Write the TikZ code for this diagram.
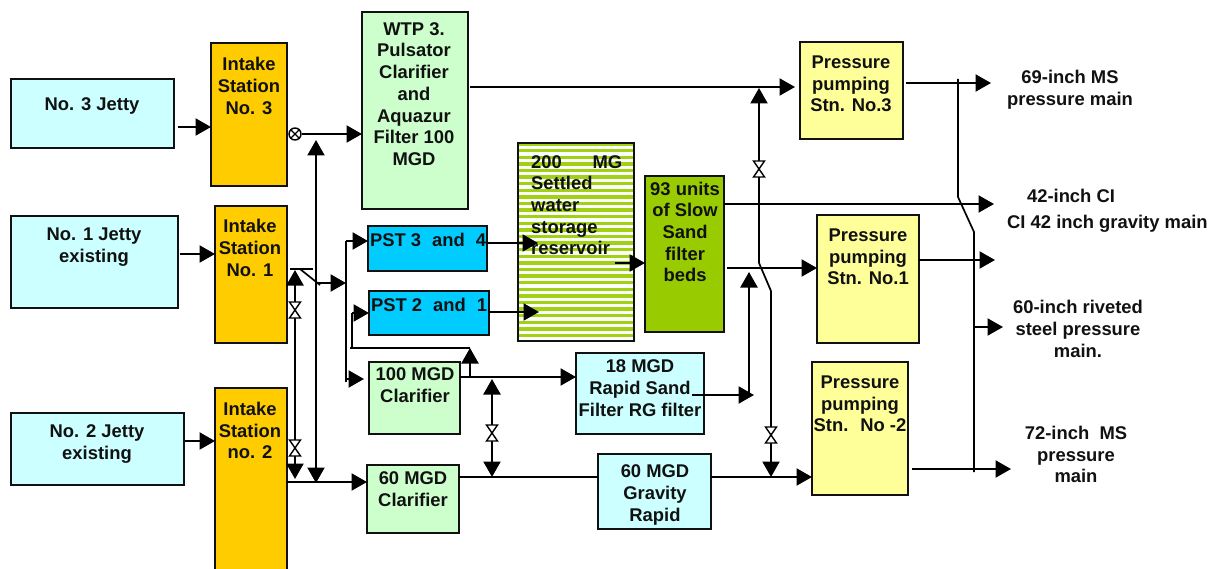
\documentclass[tikz,border=0pt]{standalone}
\usepackage{fontspec}
\setmainfont{Liberation Sans}
\usetikzlibrary{arrows.meta}
\definecolor{ltcyan}{HTML}{CCFFFF}
\definecolor{orng}{HTML}{FFCC00}
\definecolor{ltgreen}{HTML}{CCFFCC}
\definecolor{skyb}{HTML}{00CCFF}
\definecolor{ltyel}{HTML}{FFFF99}
\definecolor{olive}{HTML}{99CC00}
\definecolor{ink}{HTML}{111111}
\newcommand{\bx}[6]{%
  \pgfmathsetmacro\bw{#4-#2}\pgfmathsetmacro\bh{#5-#3}%
  \node[boxst,fill=#6,minimum width=\bw pt,minimum height=\bh pt] (#1) at ({(#2+#4)/2},{(#3+#5)/2}) {};}
\tikzset{
  boxst/.style={draw=ink,line width=1.3pt,inner sep=0pt,outer sep=0pt},
  txt/.style={font=\fontsize{18.4}{21.7}\selectfont\bfseries,align=center,inner sep=0pt,text=ink},
  txl/.style={font=\fontsize{18.4}{21.7}\selectfont\bfseries,align=left,inner sep=0pt,text=ink},
  arr/.style={line width=2.2pt,color=black,-{Triangle[length=15.5pt,width=17pt]}},
  darr/.style={line width=2.2pt,color=black,{Triangle[length=15.5pt,width=17pt]}-{Triangle[length=15.5pt,width=17pt]}},
  pipe/.style={line width=2.2pt,color=black},
  thin pipe/.style={line width=1.7pt,color=black},
  valve/.pic={\draw[fill=white,line width=1.4pt,line join=miter] (-5.5,-8)--(5.5,-8)--(-5.5,8)--(5.5,8)--cycle;}
}
\begin{document}
\begin{tikzpicture}[x=1pt,y=-1pt]
\clip (0,0) rectangle (1220,569);
\fill[white] (0,0) rectangle (1220,569);
% boxes
\bx{j3}{11}{79}{174}{148}{ltcyan}
\bx{j1}{11}{216}{178}{308}{ltcyan}
\bx{j2}{11}{413}{184}{485}{ltcyan}
\bx{in3}{211}{43}{287}{186}{orng}
\bx{in1}{215}{206}{287}{343}{orng}
\bx{in2}{215}{388}{287}{590}{orng}
\bx{wtp}{362}{12}{468}{209}{ltgreen}
\bx{pa}{368}{226}{487}{271}{skyb}
\bx{pb}{369}{291}{489}{335}{skyb}
\bx{ca}{369}{362}{460}{434}{ltgreen}
\bx{cb}{367}{465}{459}{533}{ltgreen}
\bx{res}{518}{143}{634}{341}{olive!92!white}
\begin{scope}
\clip (res.north west) rectangle (res.south east);
\foreach \k in {0,...,30}{\fill[white!92!ltgreen] (518,{145.8+6.6*\k}) rectangle (634,{149+6.6*\k});}
\end{scope}
\draw[draw=ink,line width=1.3pt] (res.north west) rectangle (res.south east);
\bx{sf}{645}{176}{724}{332}{olive}
\bx{rs}{576}{353}{704}{434}{ltcyan}
\bx{gr}{598}{454}{711}{529}{ltcyan}
\bx{p3}{800}{42}{903}{139}{ltyel}
\bx{p1}{817}{215}{919}{343}{ltyel}
\bx{p2}{812}{362}{908}{495}{ltyel}
% texts
\node[txt] (tj3) at (92,106) {No. 3 Jetty};
\node[txt] (tj1) at (94,247) {No. 1 Jetty\\existing};
\node[txt] (tj2) at (97,444) {No. 2 Jetty\\existing};
\node[txt] (tin3) at (249,86) {Intake\\Station\\No. 3};
\node[txt] (tin1) at (250,248) {Intake\\Station\\No. 1};
\node[txt] (tin2) at (250,430.5) {Intake\\Station\\no. 2};
\node[txt] (twtp) at (414,94) {WTP 3.\\Pulsator\\Clarifier\\and\\Aquazur\\Filter 100\\MGD};
\node[txt] (tpa) at (428,239.5) {\hbox to 116pt{PST 3\hfill and\hfill 4}};
\node[txt] (tpb) at (429,304.5) {\hbox to 116pt{PST 2\hfill and\hfill 1}};
\node[txt] (tca) at (415,385) {100 MGD\\Clarifier};
\node[txt] (tcb) at (413,489) {60 MGD\\Clarifier};
\node[txl,anchor=north west] (tres) at (531,155) {\hbox to 91pt{200\hfill MG}\\Settled\\water\\storage\\reservoir};
\node[txt] (tsf) at (685,232) {93 units\\of Slow\\Sand\\filter\\beds};
\node[txt] (trs) at (640,388) {18 MGD\\Rapid Sand\\Filter RG filter};
\node[txt] (tgr) at (655,495) {60 MGD\\Gravity\\Rapid};
\node[txt] (tp3) at (851,84) {Pressure\\pumping\\Stn. No.3};
\node[txt] (tp1) at (868,257) {Pressure\\pumping\\Stn. No.1};
\node[txt] (tp2) at (860,404) {Pressure\\pumping\\Stn.~ No -2};
\node[txt] (o69) at (1070,90) {69-inch MS\\pressure main};
\node[txt] (o42) at (1071,196) {42-inch CI};
\node[txl,anchor=west] (og) at (1007,224) {CI 42 inch gravity main};
\node[txt] (o60) at (1078,329) {60-inch riveted\\steel pressure\\main.};
\node[txt] (o72) at (1076,454.5) {72-inch~ MS\\pressure\\main};
% free-end coordinates
\coordinate (a1) at (178,127);
\coordinate (a2) at (180,254);
\coordinate (a3) at (185,441);
\draw[arr] (a1) -- (a1 -| in3.west);
\draw[arr] (a2) -- (a2 -| in1.west);
\draw[arr] (a3) -- (a3 -| in2.west);
% intake 3 valve and line to WTP
\node[circle,draw=black,fill=white,line width=1.4pt,minimum size=12pt,inner sep=0pt] (vx) at (295,134) {};
\draw[line width=1.2pt] (vx.north west) -- (vx.south east) (vx.north east) -- (vx.south west);
\draw[arr] (vx.east) -- (vx.east -| wtp.west);
% cross-connection intake 3 - intake 2
\coordinate (b1) at (316,140);
\coordinate (b2) at (316,483);
\draw[darr] (b1) -- (b2);
% cross-connection intake 1 - intake 2
\coordinate (d1) at (295,270);
\coordinate (d2) at (295,479);
\draw[darr] (d1) -- (d2);
\pic at (295,310) {valve};
\pic at (295,448) {valve};
% intake 2 to 60 MGD
\coordinate (e1) at (287,482);
\draw[arr] (e1) -- (e1 -| cb.west);
% intake 1 switch
\coordinate (f1) at (290,269);
\coordinate (f2) at (313,269);
\coordinate (f3) at (300,269);
\coordinate (f4) at (320,285);
\coordinate (f5) at (318,283);
\coordinate (g1) at (346,241);
\coordinate (g2) at (346,283);
\coordinate (g3) at (346,382);
\coordinate (g4) at (346,379);
\draw[thin pipe] (f1) -- (f2);
\draw[thin pipe] (f3) -- (f4);
\draw[arr] (f5) -- (g2);
\draw[pipe] (g1) -- (g3);
\draw[arr] (g1) -- (g1 -| pa.west);
\draw[arr] (g4) -- ([xshift=-5pt]g4 -| ca.west);
% feed to PST 2 and 1
\coordinate (h1) at (350,348);
\coordinate (h2) at (470,348);
\coordinate (h3) at (352,348);
\coordinate (h4) at (352,313);
\coordinate (h5) at (470,378);
\draw[thin pipe] (h1) -- (h2);
\draw[pipe] (h3) -- (h4);
\draw[arr] (h4) -- (h4 -| pb.west);
\draw[arr] (h5) -- (h2);
% 100 MGD to 18 MGD
\coordinate (k1) at (460,377);
\draw[arr] (k1) -- (k1 -| rs.west);
\coordinate (k2) at (492,379);
\coordinate (k3) at (492,477);
\draw[darr] (k2) -- (k3);
\pic at (492,433) {valve};
% 60 MGD, gravity, pressure 2
\coordinate (m1) at (459,477);
\draw[pipe] (m1) -- (m1 -| gr.west);
\coordinate (m2) at (711,477);
\draw[arr] (m2) -- (m2 -| p2.west);
% PST to reservoir
\coordinate (n1) at (487,243);
\coordinate (n2) at (538,243);
\coordinate (n3) at (489,312);
\coordinate (n4) at (539,312);
\draw[arr] (n1) -- (n2);
\draw[arr] (n3) -- (n4);
\coordinate (n5) at (615,263);
\draw[arr] (n5) -- (n5 -| sf.west);
% slow sand outlets
\coordinate (q1) at (727,268);
\draw[arr] (q1) -- (q1 -| p1.west);
\coordinate (q2) at (724,204);
\coordinate (q3) at (994,204);
\draw[arr] (q2) -- (q3);
% x=759 switch
\coordinate (r1) at (759,88);
\coordinate (r2) at (759,263);
\coordinate (r3) at (771,291);
\coordinate (r4) at (771,477);
\draw[arr] (r2) -- (r1);
\draw[thin pipe] (r2) -- (r3);
\draw[arr] (r3) -- (r4);
\pic at (759,169) {valve};
\pic at (771,435) {valve};
% WTP to pressure 3
\coordinate (s1) at (470,87);
\coordinate (s2) at (795,87);
\draw[arr] (s1) -- (s2);
% rapid sand
\coordinate (t1) at (692,395);
\coordinate (t2) at (754,395);
\coordinate (t3) at (749,395);
\coordinate (t4) at (749,272);
\draw[arr] (t1) -- (t2);
\draw[arr] (t3) -- (t4);
% pressure outlets
\coordinate (u1) at (906,83);
\coordinate (u2) at (991,83);
\coordinate (u3) at (919,260);
\coordinate (u4) at (995,260);
\coordinate (u5) at (912,469);
\coordinate (u6) at (1011,469);
\draw[arr] (u1) -- (u2);
\draw[arr] (u3) -- (u4);
\draw[arr] (u5) -- (u6);
% right manifold
\coordinate (w1) at (958,79);
\coordinate (w2) at (958,197);
\coordinate (w3) at (974,232);
\coordinate (w4) at (974,472);
\coordinate (w5) at (974,327);
\coordinate (w6) at (1003,327);
\draw[thin pipe] (w1) -- (w2) -- (w3) -- (w4);
\draw[arr] (w5) -- (w6);
\end{tikzpicture}
\end{document}
